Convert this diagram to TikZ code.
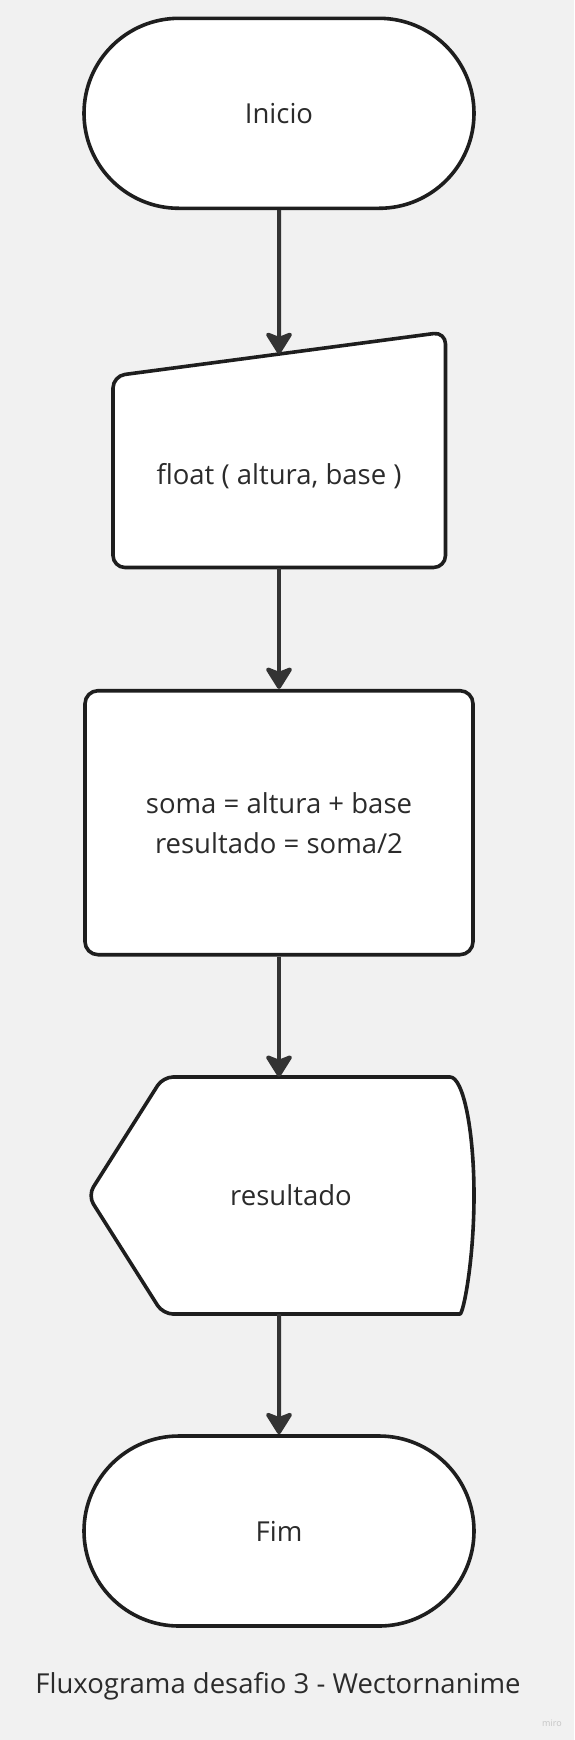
\documentclass[tikz,border=0pt]{standalone}
\usepackage{fontspec}
\setmainfont{Open Sans}
\usetikzlibrary{arrows.meta,shapes.misc}
\definecolor{bg}{HTML}{F1F1F1}
\definecolor{edgec}{HTML}{1E1E1E}
\definecolor{arrowc}{HTML}{333333}
\definecolor{txtc}{HTML}{2B2B2B}
\definecolor{miroc}{HTML}{C4C4C4}
\begin{document}
\begin{tikzpicture}[x=1pt,y=-1pt,
  outline/.style={draw=edgec, line width=3.6pt, fill=white, line join=round},
  label/.style={text=txtc, font=\fontsize{27.5}{40}\selectfont, align=center, inner sep=0pt},
  term/.style={outline, label, rounded rectangle, minimum width=390pt, minimum height=190pt},
  procbox/.style={outline, label, rounded corners=13pt, minimum width=388pt, minimum height=264pt},
  flow/.style={draw=arrowc, line width=4pt, -{Stealth[length=25pt,width=31pt,inset=6pt,round]}}
]
\fill[bg] (0,0) rectangle (574,1740);
\useasboundingbox (0,0) rectangle (574,1740);

% Inicio
\node[term] (ini) at (279,113.3) {Inicio};

% manual input
\draw[outline, rounded corners=12pt] (279,567.5) -- (113,567.5) -- (113,376) -- (445.5,332) -- (445.5,567.5) -- cycle;
\node[label, minimum height=183pt] (inp) at (279,476) {float ( altura, base )};
\coordinate (inptop) at (279,354);

% process
\node[procbox] (proc) at (279,822.7) {soma = altura + base\\resultado = soma/2};

% display
\draw[outline] (300,1077) [rounded corners=10pt] -- (163,1077) -- (88,1195.5) -- (163,1314) -- (450,1314) [sharp corners]
  .. controls (463.2,1314) and (474,1261) .. (474,1195.5)
  .. controls (474,1130) and (463.2,1077) .. (450,1077) -- cycle;
\node[label, minimum height=237pt] (disp) at (291,1195.5) {resultado};

% Fim
\node[term] (fim) at (279,1531) {Fim};

% caption
\node[label] (cap) at (278,1686) {Fluxograma desafio 3 - Wectornanime};
\node[text=miroc, font=\fontsize{9}{10}\selectfont, inner sep=0pt] (miro) at (552,1723) {miro};

% connectors
\draw[flow] (ini) -- (inptop);
\draw[flow] (inp) -- (proc);
\draw[flow] (proc.south) -- (proc.south |- disp.north);
\draw[flow] (proc.south |- disp.south) -- (fim);
\end{tikzpicture}
\end{document}
